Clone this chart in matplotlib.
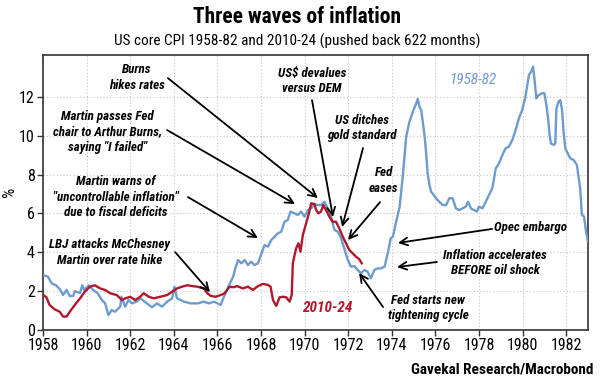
import matplotlib
matplotlib.use("Agg")
import matplotlib.pyplot as plt
from matplotlib import font_manager

names = {f.name for f in font_manager.fontManager.ttflist}
FONT = "DejaVu Sans"
for cand in ["Roboto Condensed", "Open Sans Condensed", "Liberation Sans Narrow", "Lato"]:
    if cand in names:
        FONT = cand
        break
plt.rcParams['font.family'] = [FONT, 'DejaVu Sans']

# ---- data ----
blue_years = [1958.0, 1958.23, 1958.4, 1958.6, 1958.77, 1958.92, 1959.08, 1959.23, 1959.38, 1959.46,
              1959.7, 1959.8, 1959.9, 1960.1, 1960.3, 1960.5, 1960.7, 1960.85, 1961.0, 1961.15,
              1961.3, 1961.54, 1961.6, 1961.77, 1961.92, 1962.08, 1962.3, 1962.46, 1962.77, 1963.0,
              1963.23, 1963.46, 1963.7, 1963.92, 1964.03, 1964.15, 1964.46, 1964.77, 1965.1, 1965.38,
              1965.6, 1965.85, 1966.0, 1966.15, 1966.27, 1966.5, 1966.72, 1966.82, 1966.95, 1967.1,
              1967.25, 1967.4, 1967.55, 1967.7, 1967.86, 1968.0, 1968.16, 1968.32, 1968.47, 1968.62,
              1968.77, 1968.93, 1969.08, 1969.23, 1969.35, 1969.54, 1969.69, 1969.84, 1970.0, 1970.15,
              1970.3, 1970.45, 1970.6, 1970.76, 1970.91, 1971.06, 1971.21, 1971.37, 1971.52, 1971.67,
              1971.82, 1971.98, 1972.13, 1972.28, 1972.43, 1972.59, 1972.74, 1972.89, 1973.04, 1973.2,
              1973.35, 1973.5, 1973.67, 1973.83, 1973.95, 1974.05, 1974.2, 1974.36, 1974.51, 1974.66,
              1974.81, 1974.97, 1975.12, 1975.19, 1975.27, 1975.35, 1975.42, 1975.5, 1975.57, 1975.65,
              1975.73, 1975.8, 1975.92, 1976.03, 1976.18, 1976.33, 1976.49, 1976.64, 1976.79, 1976.94,
              1977.09, 1977.25, 1977.4, 1977.5, 1977.63, 1977.78, 1977.9, 1978.0, 1978.16, 1978.31,
              1978.46, 1978.61, 1978.77, 1978.92, 1979.07, 1979.22, 1979.37, 1979.53, 1979.68, 1979.83,
              1979.98, 1980.13, 1980.29, 1980.39, 1980.48, 1980.54, 1980.63, 1980.74, 1980.89, 1981.0,
              1981.09, 1981.17, 1981.24, 1981.3, 1981.43, 1981.5, 1981.55, 1981.65, 1981.73, 1981.81,
              1981.88, 1981.96, 1982.03, 1982.19, 1982.34, 1982.49, 1982.64, 1982.72, 1982.82, 1982.91,
              1983.0]
blue_values = [2.83, 2.74, 2.4, 2.3, 2.1, 1.8, 2.06, 1.75, 1.75, 2.0,
               1.9, 2.3, 2.05, 2.3, 2.06, 1.9, 1.55, 1.37, 0.77, 1.03,
               0.94, 1.2, 1.71, 1.2, 1.54, 1.37, 1.46, 1.63, 1.37, 1.17,
               1.37, 1.2, 1.46, 1.63, 2.23, 1.63, 1.46, 1.37, 1.37, 1.46,
               1.37, 1.46, 1.37, 1.29, 1.63, 2.23, 2.74, 3.17, 3.6, 3.43,
               3.6, 3.34, 3.52, 3.34, 3.43, 3.86, 4.37, 4.29, 4.63, 4.8,
               4.97, 5.06, 5.57, 5.66, 6.09, 6.0, 5.92, 6.09, 5.83, 6.17,
               6.26, 6.48, 6.43, 6.43, 6.6, 6.26, 5.83, 5.15, 5.06, 4.72,
               4.2, 3.6, 3.26, 3.29, 3.09, 2.92, 3.09, 3.0, 2.66, 3.09,
               3.17, 3.17, 3.26, 4.03, 4.72, 4.8, 5.57, 6.35, 7.98, 9.95,
               10.72, 11.24, 11.66, 11.89, 11.49, 11.32, 10.72, 10.03, 9.18, 7.98,
               7.46, 7.12, 6.95, 6.78, 6.6, 6.43, 6.43, 6.78, 6.78, 6.26,
               6.17, 6.26, 6.35, 6.6, 6.26, 6.17, 6.09, 6.35, 6.26, 6.6,
               6.95, 7.29, 8.32, 8.58, 9.0, 9.35, 9.43, 9.78, 10.29, 10.89,
               11.32, 12.0, 13.12, 13.29, 13.55, 12.95, 11.92, 12.09, 12.18, 12.18,
               11.58, 10.89, 10.03, 9.6, 9.52, 9.6, 11.4, 11.75, 11.83, 11.32,
               10.2, 9.35, 9.18, 8.83, 8.75, 8.49, 7.29, 5.92, 5.83, 5.06,
               4.55]

red_years = [1958.0, 1958.15, 1958.3, 1958.54, 1958.77, 1958.92, 1959.08, 1959.23, 1959.46, 1959.7,
             1959.92, 1960.15, 1960.38, 1960.62, 1960.85, 1961.08, 1961.38, 1961.62, 1961.77, 1962.0,
             1962.23, 1962.46, 1962.62, 1962.85, 1963.08, 1963.38, 1963.7, 1963.92, 1964.15, 1964.38,
             1964.62, 1964.85, 1965.08, 1965.38, 1965.54, 1965.7, 1965.92, 1966.15, 1966.33, 1966.56,
             1966.75, 1966.9, 1967.17, 1967.4, 1967.63, 1967.86, 1968.09, 1968.32, 1968.44, 1968.55,
             1968.7, 1968.85, 1969.0, 1969.16, 1969.31, 1969.41, 1969.46, 1969.61, 1969.72, 1969.81,
             1969.92, 1970.07, 1970.22, 1970.3, 1970.45, 1970.53, 1970.63, 1970.75, 1970.86, 1970.98,
             1971.14, 1971.29, 1971.44, 1971.59, 1971.75, 1971.9, 1972.05, 1972.2, 1972.36, 1972.51,
             1972.62]
red_values = [1.8, 1.7, 1.29, 1.06, 0.94, 0.69, 0.69, 0.94, 1.29, 1.63,
              1.97, 2.23, 2.3, 2.14, 2.06, 1.89, 1.8, 1.54, 1.63, 1.71,
              1.54, 1.71, 1.89, 1.71, 1.63, 1.71, 1.8, 1.97, 2.14, 2.23,
              2.3, 2.26, 2.23, 2.14, 1.89, 1.75, 1.71, 1.8, 1.89, 2.23,
              2.2, 2.26, 2.14, 2.23, 2.06, 2.26, 2.37, 2.32, 2.23, 1.54,
              1.24, 1.68, 1.71, 1.68, 1.46, 1.8, 3.43, 4.2, 4.46, 4.03,
              4.89, 5.49, 6.09, 6.52, 6.48, 6.17, 6.0, 6.09, 6.43, 6.17,
              5.83, 5.57, 5.57, 5.23, 4.8, 4.46, 4.12, 3.95, 3.77, 3.64,
              3.43]

x_ticks = list(range(1958, 1983, 2))
y_ticks = [0, 2, 4, 6, 8, 10, 12]

title = "Three waves of inflation"
subtitle = "US core CPI 1958-82 and 2010-24 (pushed back 622 months)"
source = "Gavekal Research/Macrobond"

# annotations: text, text position, arrow start, arrow tip
notes = [
    ("Burns\nhikes rates", (1962.31, 12.99), (1963.73, 12.96), (1970.61, 6.79)),
    ("Martin passes Fed\nchair to Arthur Burns,\nsaying \"I failed\"", (1960.94, 10.19), (1963.69, 10.29), (1969.56, 6.48)),
    ("Martin warns of\n\"uncontrollable inflation\"\ndue to fiscal deficits", (1961.35, 6.84), (1964.65, 6.84), (1967.86, 4.73)),
    ("LBJ attacks McChesney\nMartin over rate hike", (1961.07, 3.99), (1964.06, 4.01), (1965.66, 1.95)),
    ("US$ devalues\nversus DEM", (1970.34, 12.81), (1970.34, 11.83), (1971.30, 5.81)),
    ("US ditches\ngold standard", (1972.63, 10.39), (1972.68, 9.36), (1971.72, 5.30)),
    ("Fed\neases", (1973.64, 7.69), (1973.46, 6.58), (1971.99, 4.63)),
    ("Opec embargo", (1980.34, 5.25), (1978.6, 5.2), (1974.28, 4.48)),
    ("Inflation accelerates\nBEFORE oil shock", (1978.73, 3.45), (1976.07, 3.5), (1974.24, 3.24)),
    ("Fed starts new\ntightening cycle", (1975.66, 1.13), (1973.6, 1.18), (1972.5, 2.93)),
]

BLUE = "#6d9bcf"
RED = "#b0182c"

fig = plt.figure(figsize=(6.05, 3.82), dpi=100)
ax = fig.add_axes([43/605, 52/382, 545/605, 275/382])

ax.plot(blue_years, blue_values, color=BLUE, lw=1.7, zorder=3)
ax.plot(red_years, red_values, color=RED, lw=1.7, zorder=4)

ax.set_xlim(1958, 1983)
ax.set_ylim(0, 14.15)
ax.set_xticks(x_ticks)
ax.set_yticks(y_ticks)
ax.tick_params(labelsize=11.5, length=4, width=1, color="#333333", pad=2)
ax.grid(True, ls=(0, (1, 2)), color="#c4c4c4", lw=0.8)
ax.set_axisbelow(True)
for s in ax.spines.values():
    s.set_color("#333333")
    s.set_linewidth(1.2)
ax.set_ylabel("%", fontsize=11.5)
ax.yaxis.set_label_coords(-26/545, 0.5)

for text, tpos, start, tip in notes:
    ax.text(tpos[0], tpos[1], text, ha="center", va="center", fontsize=9.4,
            fontweight="bold", fontstyle="italic", linespacing=1.22, zorder=5)
    ax.annotate("", xy=tip, xytext=start,
                arrowprops=dict(arrowstyle="->", color="black", lw=1.3,
                                mutation_scale=14, shrinkA=0, shrinkB=0), zorder=5)

ax.text(1977.72, 12.86, "1958-82", color=BLUE, fontsize=11, fontstyle="italic",
        ha="center", va="center")
ax.text(1971.03, 1.13, "2010-24", color=RED, fontsize=11, fontstyle="italic",
        fontweight="bold", ha="center", va="center")

fig.text(297/605, 1 - 17/382, title, ha="center", va="center", fontsize=15.5, fontweight="bold")
fig.text(297/605, 1 - 41/382, subtitle, ha="center", va="center", fontsize=11)
fig.text(593/605, 1 - 369/382, source, ha="right", va="center", fontsize=11, fontweight="bold")

fig.savefig("out.png", dpi=100)
